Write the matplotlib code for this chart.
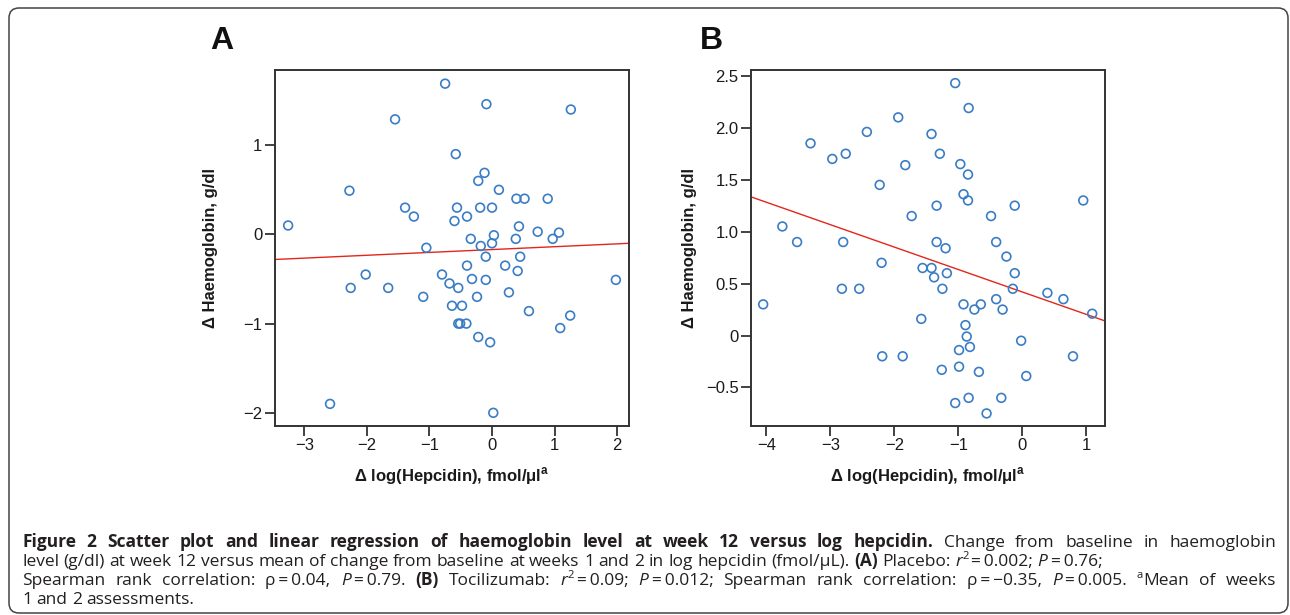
"""Figure 2 : Δ hémoglobine vs Δ log(hepcidine), placebo (A) et tocilizumab (B)."""

import numpy as np

import matplotlib
matplotlib.use("Agg")
import matplotlib.pyplot as plt
from matplotlib.patches import FancyBboxPatch
from matplotlib.transforms import IdentityTransform
from matplotlib.ticker import FuncFormatter


# ---------------------------------------------------------------------------
# Données
# ---------------------------------------------------------------------------

# (A) Placebo
hep_a = [-3.26, -2.59, -2.28, -2.26, -2.02, -1.66, -1.55, -1.39, -1.25, -1.10,
         -1.05, -0.80, -0.75, -0.68, -0.64, -0.58, -0.60, -0.56, -0.54, -0.54,
         -0.51, -0.48, -0.41, -0.40, -0.40, -0.34, -0.32, -0.24, -0.22, -0.22,
         -0.19, -0.18, -0.12, -0.10, -0.09, -0.10, -0.03, 0.00, 0.00, 0.03,
         0.02, 0.11, 0.21, 0.27, 0.38, 0.39, 0.41, 0.43, 0.45, 0.52,
         0.59, 0.73, 0.89, 0.97, 1.07, 1.09, 1.25, 1.26, 1.98]
hb_a = [0.10, -1.90, 0.49, -0.60, -0.45, -0.60, 1.29, 0.30, 0.20, -0.70,
        -0.15, -0.45, 1.69, -0.55, -0.80, 0.90, 0.15, 0.30, -0.60, -1.00,
        -1.00, -0.80, -1.00, 0.20, -0.35, -0.05, -0.50, -0.70, 0.60, -1.15,
        0.30, -0.13, 0.69, -0.25, 1.46, -0.51, -1.21, -0.10, 0.30, -0.01,
        -2.00, 0.50, -0.35, -0.65, -0.05, 0.40, -0.41, 0.09, -0.25, 0.40,
        -0.86, 0.03, 0.40, -0.05, 0.02, -1.05, -0.91, 1.40, -0.51]
fit_a = (-0.17, 0.032)   # (ordonnée à l'origine, pente)

# (B) Tocilizumab
hep_b = [-4.05, -3.75, -3.52, -3.31, -2.97, -2.82, -2.80, -2.76, -2.55, -2.43,
         -2.23, -2.20, -2.19, -1.94, -1.87, -1.83, -1.73, -1.58, -1.56, -1.42,
         -1.42, -1.38, -1.34, -1.34, -1.29, -1.26, -1.25, -1.20, -1.18, -1.05,
         -1.05, -0.99, -0.99, -0.97, -0.92, -0.92, -0.89, -0.87, -0.85, -0.85,
         -0.84, -0.84, -0.82, -0.75, -0.68, -0.65, -0.56, -0.49, -0.41, -0.41,
         -0.33, -0.31, -0.25, -0.15, -0.12, -0.12, -0.02, 0.06, 0.39, 0.64,
         0.79, 0.95, 1.09]
hb_b = [0.30, 1.05, 0.90, 1.85, 1.70, 0.45, 0.90, 1.75, 0.45, 1.96,
        1.45, 0.70, -0.20, 2.10, -0.20, 1.64, 1.15, 0.16, 0.65, 1.94,
        0.65, 0.56, 1.25, 0.90, 1.75, -0.33, 0.45, 0.84, 0.60, 2.43,
        -0.65, -0.14, -0.30, 1.65, 1.36, 0.30, 0.10, -0.01, 1.55, 1.30,
        2.19, -0.60, -0.11, 0.25, -0.35, 0.30, -0.75, 1.15, 0.90, 0.35,
        -0.60, 0.25, 0.76, 0.45, 1.25, 0.60, -0.05, -0.39, 0.41, 0.35,
        -0.20, 1.30, 0.21]
fit_b = (0.419, -0.216)

xticks_a = [-3, -2, -1, 0, 1, 2]
yticks_a = [-2, -1, 0, 1]
xticks_b = [-4, -3, -2, -1, 0, 1]
yticks_b = [-0.5, 0, 0.5, 1.0, 1.5, 2.0, 2.5]

XLABEL = r"Δ log(Hepcidin), fmol/μl$^{\mathregular{a}}$"
YLABEL = "Δ Haemoglobin, g/dl"

BLEU = "#3a7dc4"
ROUGE = "#e3261b"
GRIS = "#333333"
PANEL_FONT = ["Liberation Sans", "DejaVu Sans"]
CAP_FONT = ["Open Sans", "DejaVu Sans"]
TAILLE = 12.5

W, H = 1290, 615
fig = plt.figure(figsize=(W / 100, H / 100), dpi=100)


def axes_px(l, t, r, b):
    return fig.add_axes([l / W, 1 - b / H, (r - l) / W, (b - t) / H])


def fmt_b(v, pos):
    return "0" if abs(v) < 1e-9 else f"{v:.1f}".replace("-", "−")


def panneau(ax, x, y, fit, xlim, ylim, xticks, yticks, formatter=None):
    ax.scatter(x, y, s=40, facecolors="none", edgecolors=BLEU,
               linewidths=1.2, zorder=3, clip_on=False)
    xs = np.array(xlim)
    ax.plot(xs, fit[0] + fit[1] * xs, color=ROUGE, lw=1.0, zorder=2)
    ax.set_xlim(xlim)
    ax.set_ylim(ylim)
    ax.set_xticks(xticks)
    ax.set_yticks(yticks)
    if formatter is not None:
        ax.yaxis.set_major_formatter(FuncFormatter(formatter))
    for s in ax.spines.values():
        s.set_color(GRIS)
        s.set_linewidth(1.4)
    ax.tick_params(direction="out", length=7, width=1.3, color=GRIS,
                   labelsize=12, labelcolor="#1a1a1a", pad=2)
    for lab in ax.get_xticklabels() + ax.get_yticklabels():
        lab.set_family(PANEL_FONT)


ax_a = axes_px(275, 70, 629, 426)
panneau(ax_a, hep_a, hb_a, fit_a, (-3.47, 2.19), (-2.148, 1.843),
        xticks_a, yticks_a)
ax_b = axes_px(751, 70, 1105, 426)
panneau(ax_b, hep_b, hb_b, fit_b, (-4.24, 1.29), (-0.871, 2.556),
        xticks_b, yticks_b, fmt_b)

lab_kw = dict(family=PANEL_FONT, size=12, weight="bold", color="#1a1a1a",
              ha="center", va="center")
fig.text(452 / W, 1 - 476 / H, XLABEL, **lab_kw)
fig.text(928 / W, 1 - 476 / H, XLABEL, **lab_kw)
fig.text(211 / W, 1 - 248 / H, YLABEL, rotation=90, **lab_kw)
fig.text(690 / W, 1 - 248 / H, YLABEL, rotation=90, **lab_kw)

fig.text(222 / W, 1 - 41 / H, "A", family=PANEL_FONT, size=23,
         weight="bold", color="#111111", ha="center", va="center")
fig.text(711 / W, 1 - 41 / H, "B", family=PANEL_FONT, size=23,
         weight="bold", color="#111111", ha="center", va="center")

# cadre arrondi
cadre = FancyBboxPatch((9, 2), 1279, 605, boxstyle="round,pad=0,rounding_size=10",
                       transform=IdentityTransform(), fill=False,
                       edgecolor="#444444", lw=1.1)
fig.patches.append(cadre)

# ---------------------------------------------------------------------------
# Légende de la figure (texte justifié, styles mixtes)
# ---------------------------------------------------------------------------

STYLES = {
    "n": dict(color="#231f20"),
    "b": dict(color="#231f20", weight="bold"),
    "i": dict(color="#231f20", style="italic"),
    "sup": dict(color="#231f20", k=0.65, dy=0.42),
}
EQ = "\u2009=\u2009"
lignes = [
    ([("Figure 2 Scatter plot and linear regression of haemoglobin level at "
       "week 12 versus log hepcidin.", "b"),
      (" Change from baseline in haemoglobin", "n")], 547, True),
    ([("level (g/dl) at week 12 versus mean of change from baseline at weeks 1 "
       "and 2 in log hepcidin (fmol/μL). ", "n"), ("(A)", "b"),
      (" Placebo: ", "n"), ("r", "i"), ("2", "sup"), (EQ + "0.002; ", "n"),
      ("P", "i"), (EQ + "0.76;", "n")], 566, False),
    ([("Spearman rank correlation: ρ" + EQ + "0.04, ", "n"), ("P", "i"),
      (EQ + "0.79. ", "n"), ("(B)", "b"), (" Tocilizumab: ", "n"),
      ("r", "i"), ("2", "sup"), (EQ + "0.09; ", "n"), ("P", "i"),
      (EQ + "0.012; Spearman rank correlation: ρ" + EQ + "−0.35, ", "n"),
      ("P", "i"), (EQ + "0.005. ", "n"), ("a", "sup"), ("Mean of weeks", "n")],
     585, True),
    ([("1 and 2 assessments.", "n")], 604, False),
]

X0, X1 = 22, 1276
renderer = fig.canvas.get_renderer()


def largeur(t):
    return t.get_window_extent(renderer).width


def composer(segs, taille):
    """Crée les textes mot par mot ; renvoie (mots placés, largeurs, espace)."""
    mots = [[]]
    for texte, st in segs:
        for k, p in enumerate(texte.split(" ")):
            if k > 0:
                mots.append([])
            if p:
                mots[-1].append((p, st))
    mots = [m for m in mots if m]

    places, largeurs = [], []
    for m in mots:
        items, w = [], 0.0
        for p, st in m:
            kw = dict(STYLES[st])
            k = kw.pop("k", 1.0)
            dy = kw.pop("dy", 0.0) * taille * 100 / 72
            t = fig.text(0, 0, p, family=CAP_FONT, size=taille * k,
                         transform=IdentityTransform(),
                         ha="left", va="baseline", **kw)
            items.append((t, w, dy))
            w += largeur(t)
        places.append(items)
        largeurs.append(w)
    t1 = fig.text(0, 0, "x x", family=CAP_FONT, size=taille)
    t2 = fig.text(0, 0, "xx", family=CAP_FONT, size=taille)
    espace = largeur(t1) - largeur(t2)
    t1.remove()
    t2.remove()
    return places, largeurs, espace


for segs, y_px, justifie in lignes:
    places, largeurs, espace = composer(segs, TAILLE)
    gap = espace
    if justifie and len(places) > 1:
        gap = max(espace, (X1 - X0 - sum(largeurs)) / (len(places) - 1))
    x = X0
    for items, w in zip(places, largeurs):
        for t, off, dy in items:
            t.set_position((x + off, H - y_px + dy))
        x += w + gap

fig.savefig("out.png", dpi=100)
